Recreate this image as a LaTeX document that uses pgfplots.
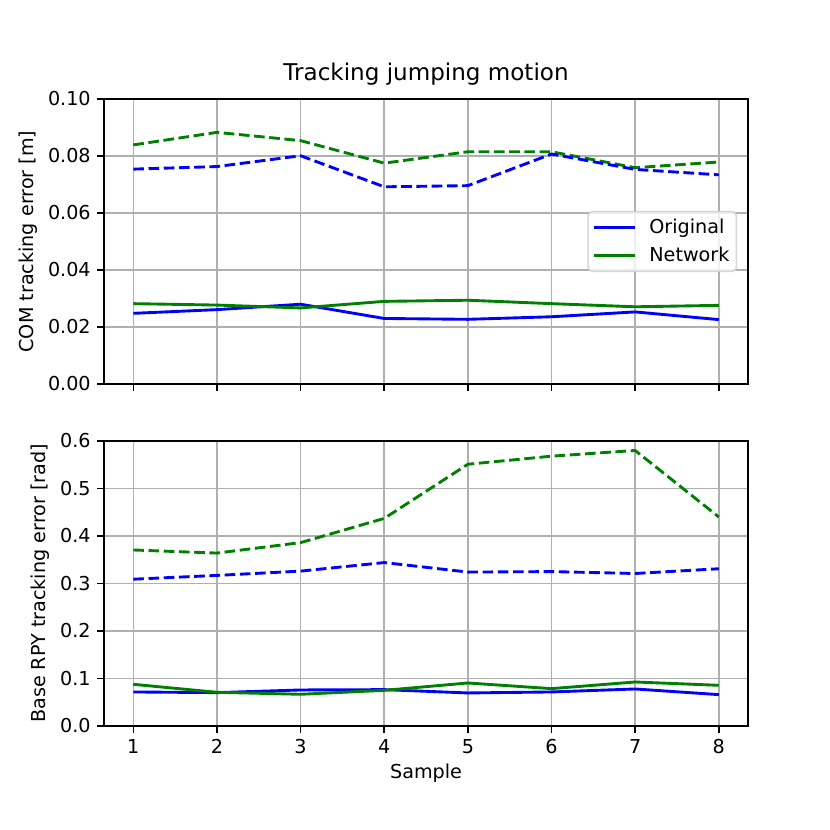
\documentclass[border=0pt]{standalone}
\usepackage{pgfplots}
\pgfplotsset{compat=1.18}
\usepackage{fontspec}
\setmainfont{DejaVu Sans}
\definecolor{mblue}{rgb}{0,0,1}
\definecolor{mgreen}{rgb}{0,0.502,0}
\definecolor{mgrid}{rgb}{0.69,0.69,0.69}
\definecolor{mleg}{rgb}{0.8,0.8,0.8}
\begin{document}
\fontsize{13.8bp}{16bp}\selectfont
\begin{tikzpicture}
\path[use as bounding box, fill=white] (0,0) rectangle (597.6bp,597.6bp);
\pgfplotsset{
  every axis/.append style={
    scale only axis, width=463.7bp, height=205.2bp,
    xmin=0.65, xmax=8.35,
    xtick={1,2,3,4,5,6,7,8},
    grid=major,
    major grid style={mgrid, line width=1.1bp},
    axis line style={line width=1.1bp},
    tick style={black, line width=1.1bp},
    tick align=outside, major tick length=4.8bp,
    xtick pos=bottom, ytick pos=left,
    /pgf/number format/assume math mode=true,
    tick label style={font=\fontsize{13.8bp}{16bp}\selectfont},
    label style={font=\fontsize{13.8bp}{16bp}\selectfont},
    every axis plot/.append style={line width=2.07bp},
  },
  dashy/.style={dash pattern=on 7.66bp off 3.31bp},
}
\begin{axis}[
  at={(74.9bp,321.1bp)}, anchor=south west,
  ymin=0, ymax=0.1,
  ytick={0,0.02,0.04,0.06,0.08,0.1},
  yticklabel style={/pgf/number format/.cd, fixed, fixed zerofill, precision=2},
  scaled y ticks=false,
  xticklabels={},
  ylabel={COM tracking error [m]},
  ylabel style={yshift=-2bp},
  title={Tracking jumping motion},
  title style={font=\fontsize{16.6bp}{19bp}\selectfont, yshift=-1bp},
  legend style={at={(0.983,0.5)}, anchor=east, draw=mleg, line width=1.1bp, rounded corners=3bp,
    fill=white, fill opacity=0.8, draw opacity=0.8, text opacity=1, font=\fontsize{13.8bp}{16bp}\selectfont,
    row sep=4bp, inner xsep=3bp, inner ysep=3bp},
  legend cell align=left,
  legend image code/.code={\draw[#1, line width=2.07bp, draw opacity=1, opacity=1] (0bp,0bp) -- (30bp,0bp); \path (37bp,0bp);},
]
\addplot[mblue] coordinates {(1,0.0248)(2,0.0261)(3,0.0280)(4,0.0230)(5,0.0227)(6,0.0236)(7,0.0253)(8,0.0226)};
\addlegendentry{Original}
\addplot[mgreen] coordinates {(1,0.0282)(2,0.0277)(3,0.0267)(4,0.0290)(5,0.0294)(6,0.0282)(7,0.0271)(8,0.0276)};
\addlegendentry{Network}
\addplot[mgreen, dashy, forget plot] coordinates {(1,0.0839)(2,0.0883)(3,0.0854)(4,0.0775)(5,0.0815)(6,0.0815)(7,0.0759)(8,0.0779)};
\addplot[mblue, dashy, forget plot] coordinates {(1,0.0754)(2,0.0763)(3,0.0801)(4,0.0692)(5,0.0696)(6,0.0807)(7,0.0753)(8,0.0734)};
\end{axis}
\begin{axis}[
  at={(74.9bp,74.9bp)}, anchor=south west,
  ymin=0, ymax=0.6,
  ytick={0,0.1,0.2,0.3,0.4,0.5,0.6},
  yticklabel style={/pgf/number format/.cd, fixed, fixed zerofill, precision=1},
  xlabel={Sample},
  xlabel style={yshift=2bp},
  ylabel={Base RPY tracking error [rad]},
  ylabel style={yshift=-2bp},
]
\addplot[mblue] coordinates {(1,0.0716)(2,0.0702)(3,0.0758)(4,0.0765)(5,0.0695)(6,0.0716)(7,0.0779)(8,0.0660)};
\addplot[mgreen] coordinates {(1,0.0877)(2,0.0709)(3,0.0667)(4,0.0750)(5,0.0905)(6,0.0786)(7,0.0926)(8,0.0856)};
\addplot[mgreen, dashy] coordinates {(1,0.3705)(2,0.3640)(3,0.3860)(4,0.4370)(5,0.5510)(6,0.5680)(7,0.5800)(8,0.4400)};
\addplot[mblue, dashy] coordinates {(1,0.3090)(2,0.3170)(3,0.3260)(4,0.3440)(5,0.3240)(6,0.3250)(7,0.3210)(8,0.3310)};
\end{axis}
\end{tikzpicture}
\end{document}
